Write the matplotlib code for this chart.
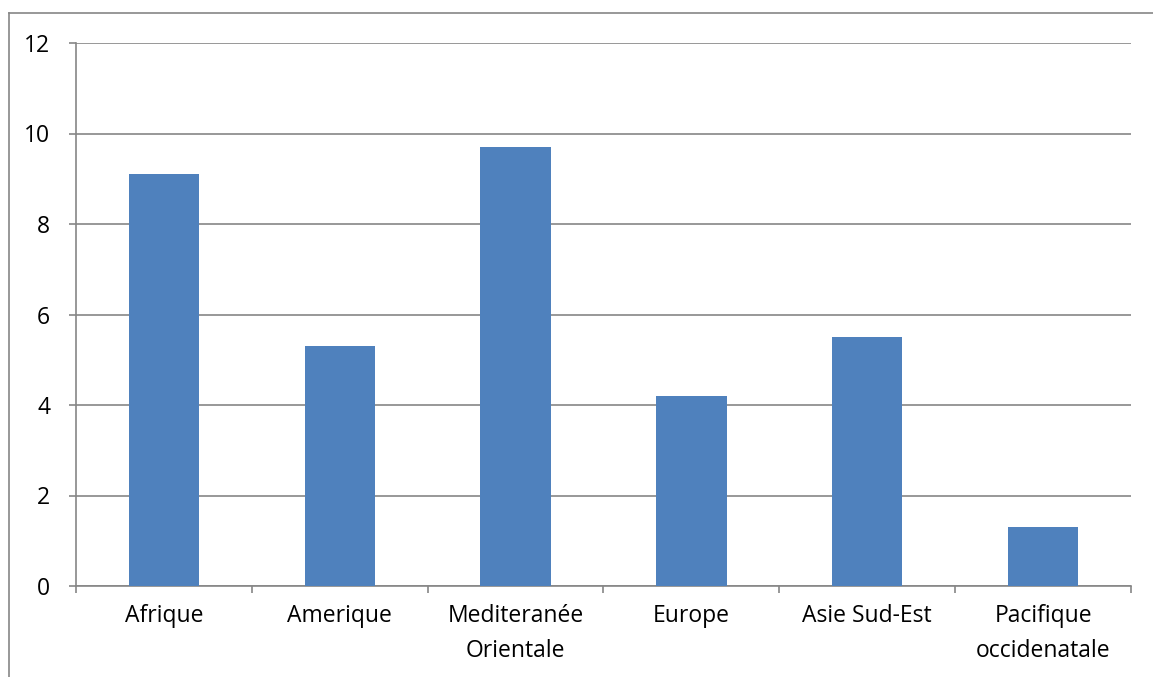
import numpy as np
import matplotlib.pyplot as plt
from matplotlib.lines import Line2D

regions = ['Afrique', 'Amerique', 'Mediteranée\nOrientale', 'Europe',
           'Asie Sud-Est', 'Pacifique\noccidenatale']
values = [9.1, 5.3, 9.7, 4.2, 5.5, 1.3]

grey = '#868686'
plt.rcParams['font.family'] = ['Open Sans', 'DejaVu Sans']

fig = plt.figure(figsize=(11.53, 6.77), dpi=100)
ax = fig.add_axes([76 / 1153, 91 / 677, 1055 / 1153, 543 / 677])

x = np.arange(len(regions))
ax.bar(x, values, width=0.4, color='#4F81BD', zorder=3)

ax.set_xlim(-0.5, len(regions) - 0.5)
ax.set_ylim(0, 12)
ax.set_yticks(range(0, 13, 2))
ax.set_xticks(x)
ax.set_xticklabels(regions, linespacing=1.6)
ax.set_xticks(np.arange(-0.5, len(regions), 1), minor=True)

ax.yaxis.grid(True, color=grey, linewidth=1.2, zorder=0)
for side in ['top', 'right']:
    ax.spines[side].set_visible(False)
for side in ['left', 'bottom']:
    ax.spines[side].set_color(grey)
    ax.spines[side].set_linewidth(1.2)

ax.tick_params(axis='y', length=5, width=1.2, color=grey, pad=13.5, labelsize=16.5)
ax.tick_params(axis='x', which='major', length=0, pad=13, labelsize=16.5)
ax.tick_params(axis='x', which='minor', length=5, width=1.2, color=grey)

# outer chart frame (cropped on right and bottom)
fig.add_artist(Line2D([8.5 / 1153, 8.5 / 1153], [0, 664 / 677], color=grey, lw=1.2))
fig.add_artist(Line2D([8.5 / 1153, 1], [664 / 677, 664 / 677], color=grey, lw=1.2))

fig.savefig('out.png', dpi=100)
